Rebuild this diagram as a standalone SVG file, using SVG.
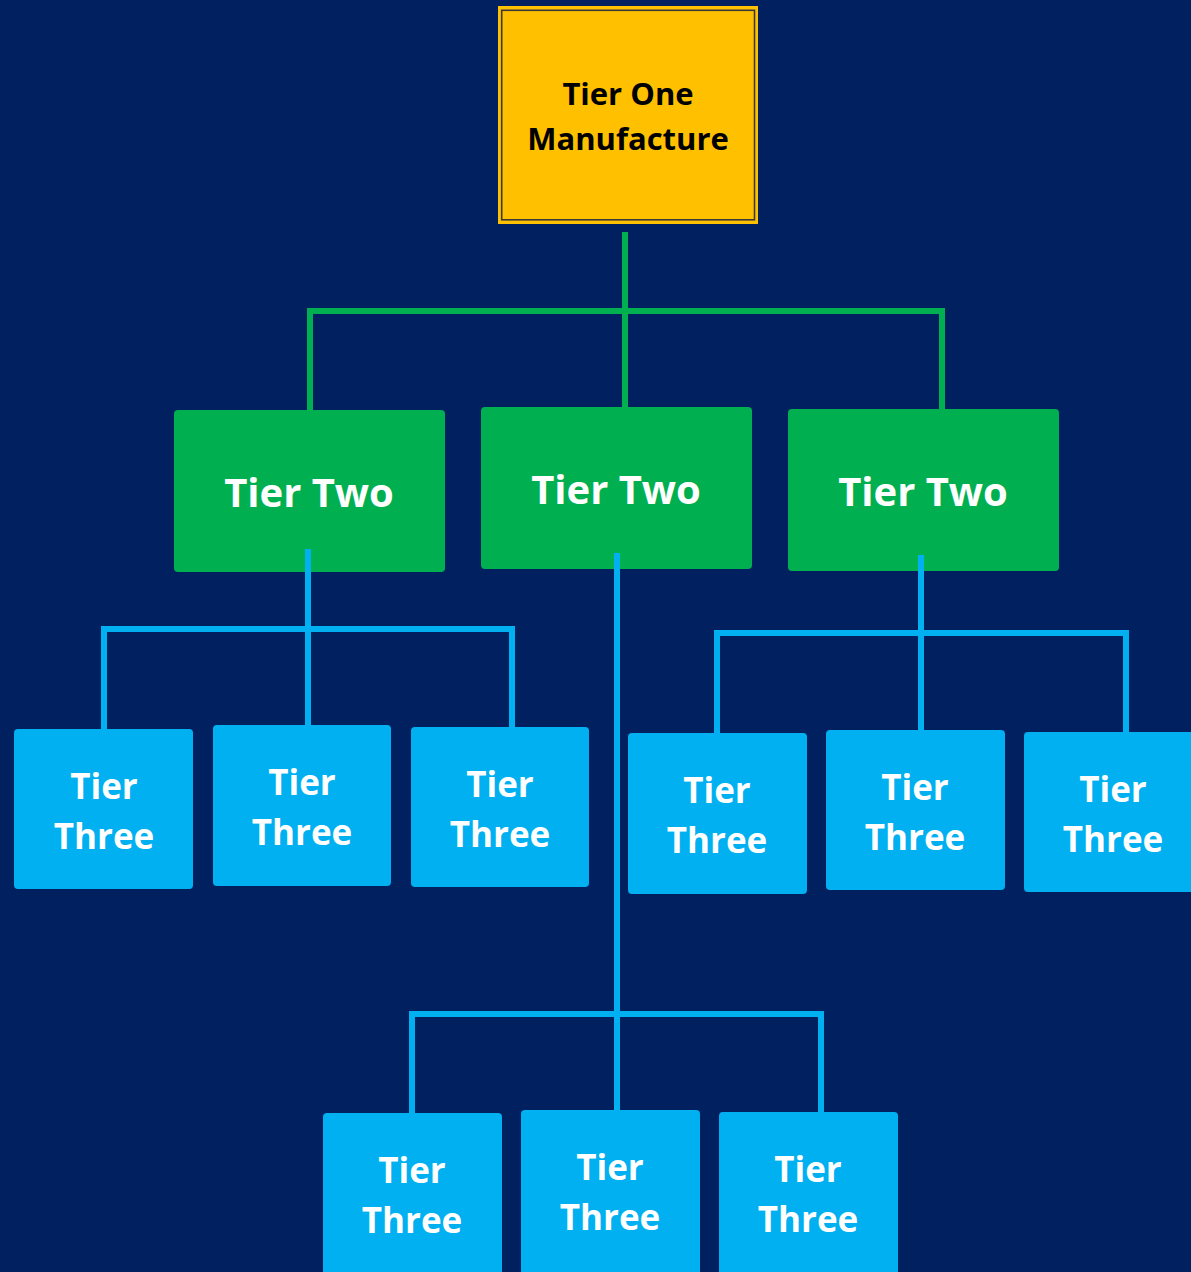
<svg xmlns="http://www.w3.org/2000/svg" width="1191" height="1272" viewBox="0 0 1191 1272">
<style>
.t1{fill:#FFC000}
.t2{fill:#00B050}
.t3{fill:#00B0F0}
.lbl{font-family:"Open Sans","Noto Sans","DejaVu Sans",sans-serif;font-weight:bold;text-anchor:middle}
.w{fill:#FFFFFF}
.k{fill:#000000}
.g{fill:none;stroke:#00B050;stroke-width:6;stroke-linecap:square}
.b{fill:none;stroke:#00B0F0;stroke-width:6;stroke-linecap:square}
</style>
<rect x="0" y="0" width="1191" height="1272" fill="#002060"/>
<g id="tier-one">
  <rect class="t1" x="498" y="6" width="260" height="218"/>
  <rect x="501.7" y="10.3" width="252.8" height="209.5" fill="none" stroke="#3a3a3a" stroke-width="1.6"/>
  <text class="lbl k" x="628" y="105" font-size="31">Tier One</text>
  <text class="lbl k" x="628" y="150" font-size="31">Manufacture</text>
</g>
<g id="tier-two-1">
  <rect class="t2" x="174" y="410" width="271" height="162" rx="4"/>
  <text class="lbl w" x="309" y="507" font-size="40">Tier Two</text>
</g>
<g id="tier-two-2">
  <rect class="t2" x="481" y="407" width="271" height="162" rx="4"/>
  <text class="lbl w" x="616" y="504" font-size="40">Tier Two</text>
</g>
<g id="tier-two-3">
  <rect class="t2" x="788" y="409" width="271" height="162" rx="4"/>
  <text class="lbl w" x="923" y="506" font-size="40">Tier Two</text>
</g>
<g id="connectors">
  <path class="g" d="M625 235 V407 M310 311 H942 M310 311 V410 M942 311 V409"/>
  <path class="b" d="M308 552 V725 M104 629 H512 M104 629 V729 M512 629 V727"/>
  <path class="b" d="M617 556 V1110 M412 1014 H821 M412 1014 V1113 M821 1014 V1112"/>
  <path class="b" d="M921 558 V730 M717 633 H1126 M717 633 V733 M1126 633 V732"/>
</g>
<g id="tier-three-1">
  <rect class="t3" x="14" y="729" width="179" height="160" rx="4"/>
  <text class="lbl w" x="104" y="799" font-size="35">Tier</text>
  <text class="lbl w" x="104" y="849" font-size="35">Three</text>
</g>
<g id="tier-three-2">
  <rect class="t3" x="213" y="725" width="178" height="161" rx="4"/>
  <text class="lbl w" x="302" y="795" font-size="35">Tier</text>
  <text class="lbl w" x="302" y="845" font-size="35">Three</text>
</g>
<g id="tier-three-3">
  <rect class="t3" x="411" y="727" width="178" height="160" rx="4"/>
  <text class="lbl w" x="500" y="797" font-size="35">Tier</text>
  <text class="lbl w" x="500" y="847" font-size="35">Three</text>
</g>
<g id="tier-three-4">
  <rect class="t3" x="628" y="733" width="179" height="161" rx="4"/>
  <text class="lbl w" x="717" y="803" font-size="35">Tier</text>
  <text class="lbl w" x="717" y="853" font-size="35">Three</text>
</g>
<g id="tier-three-5">
  <rect class="t3" x="826" y="730" width="179" height="160" rx="4"/>
  <text class="lbl w" x="915" y="800" font-size="35">Tier</text>
  <text class="lbl w" x="915" y="850" font-size="35">Three</text>
</g>
<g id="tier-three-6">
  <rect class="t3" x="1024" y="732" width="179" height="160" rx="4"/>
  <text class="lbl w" x="1113" y="802" font-size="35">Tier</text>
  <text class="lbl w" x="1113" y="852" font-size="35">Three</text>
</g>
<g id="tier-three-7">
  <rect class="t3" x="323" y="1113" width="179" height="165" rx="4"/>
  <text class="lbl w" x="412" y="1183" font-size="35">Tier</text>
  <text class="lbl w" x="412" y="1233" font-size="35">Three</text>
</g>
<g id="tier-three-8">
  <rect class="t3" x="521" y="1110" width="179" height="168" rx="4"/>
  <text class="lbl w" x="610" y="1180" font-size="35">Tier</text>
  <text class="lbl w" x="610" y="1230" font-size="35">Three</text>
</g>
<g id="tier-three-9">
  <rect class="t3" x="719" y="1112" width="179" height="166" rx="4"/>
  <text class="lbl w" x="808" y="1182" font-size="35">Tier</text>
  <text class="lbl w" x="808" y="1232" font-size="35">Three</text>
</g>
</svg>
